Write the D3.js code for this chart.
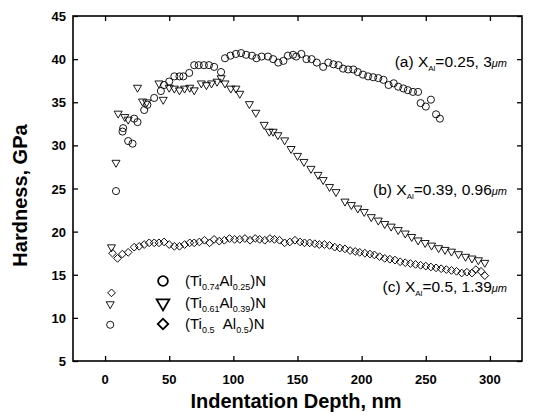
<!DOCTYPE html>
<html><head><meta charset="utf-8">
<script src="https://cdn.jsdelivr.net/npm/d3@7"></script>
<style>body{margin:0;background:#fff}svg{display:block;font-family:"Liberation Sans",Arial,sans-serif}</style>
</head><body><svg id="c" width="547" height="416"></svg>
<script>
// Depth (nm) and hardness (GPa)
const circleDepth = [4,8.5,13.6,14.1,18,21.4,22.7,25.3,30.5,33,38.3,43.5,46,50,54,58,61,65.6,69.5,73,77,81,85,90.4,93.5,97.7,102,106,110,114.5,118,122,127,131,135,139,142.5,146.5,149,153,157,161,165,170,174,178,182,185.5,189.5,193.5,197,201,205,209,213,217,221,225,228.5,232.5,236,240,244,246,250,254,258,261];
const circleH     = [9.2,24.7,31.6,32.0,30.5,30.2,33.1,32.7,34.1,34.7,35.5,36.3,37.0,37.4,38.0,38.0,38.0,38.4,39.3,39.3,39.3,39.3,39.1,38.5,40.1,40.4,40.6,40.7,40.5,40.4,40.1,40.3,40.3,40.0,39.6,39.8,40.4,40.5,40.3,40.6,40.0,40.0,39.6,39.1,39.6,39.4,39.3,38.9,38.8,38.8,38.5,38.2,38.0,37.9,37.8,37.6,37.0,37.2,36.8,36.6,36.4,36.2,36.2,34.9,34.5,35.3,33.6,33.1];
const triDepth = [4,5,8.5,10.2,15.4,18,25.3,29.2,32.5,42,45.3,50,54,58,62,66,69.5,75,79,83,87.3,90.5,93.5,98,102,105,112.5,117.5,124,128,131,134.7,140,145,150,155,160.5,166,170,175,180,187,192,197,202,207.5,213,218,223,228.5,234,239,244,249.5,254.5,260,265,270,275.5,281,286,291,296];
const triH     = [11.6,18.2,28.0,33.7,33.3,33.0,36.7,35.1,35.0,37.2,35.3,36.7,36.6,36.4,36.6,36.7,36.4,37.2,37.0,37.2,37.4,37.8,37.2,36.6,36.6,36.0,34.8,33.8,32.4,31.6,31.6,31.2,30.6,29.6,28.8,28.1,27.3,26.6,26.0,25.2,24.6,23.5,23.1,22.7,22.3,21.7,21.3,20.9,20.6,20.2,19.8,19.4,19.0,18.7,18.4,18.1,17.9,17.7,17.4,17.1,16.9,16.7,16.4];
const diaDepth = [5,5.8,9.7,13.5,18,22.7,26.6,30.5,34.4,38.3,42,46,50,54,58,62,66,69.5,73.5,77.5,81.5,85,89,93,97,101,105,109,113,117,120.5,124.5,128.5,132,136,140,144,148,152,155.5,159.5,163.5,167,171,175,179,183,187,191,195,198.5,202.5,206.5,210,214,218,222,226,230,234,238,242,246,250,254,258,262,266,270,274,278,282,286,289,293,296];
const diaH     = [12.9,17.5,16.9,17.4,17.6,18.2,18.3,18.5,18.7,18.7,18.7,18.8,18.5,18.3,18.3,18.5,18.7,18.7,18.8,19.0,18.7,19.1,18.9,19.0,19.2,19.1,19.1,19.2,19.0,19.2,19.1,19.0,19.2,19.1,19.0,18.7,18.8,19.0,18.8,18.7,18.7,18.6,18.5,18.5,18.4,18.2,18.1,18.0,17.8,17.7,17.6,17.5,17.4,17.3,17.1,16.9,16.8,16.7,16.5,16.4,16.3,16.2,16.1,16.0,15.9,15.8,15.7,15.6,15.5,15.4,15.2,15.3,15.2,15.6,15.4,14.9];
const xTicks = [0,50,100,150,200,250,300];
const yTicks = [5,10,15,20,25,30,35,40,45];

const svg = d3.select("#c");
const L=73, R=522, T=16, B=361;
const x = d3.scaleLinear().domain([-25,325]).range([L,R]);
const y = d3.scaleLinear().domain([5,45]).range([B,T]);

const minorX = d3.range(-25,326,25), minorY = d3.range(5,45.1,2.5);
function ax(axis, major, minor, tx) {
  const g = svg.append("g").attr("transform", tx);
  g.call(axis(minor).tickSize(-3).tickFormat(""));
  g.call(axis(major).tickSize(-5).tickFormat(""));
  g.selectAll(".domain").remove();
  g.selectAll("line").attr("stroke","#000").attr("stroke-width",1.3);
  return g;
}
ax(v=>d3.axisBottom(x).tickValues(v), xTicks, minorX, `translate(0,${B})`);
ax(v=>d3.axisTop(x).tickValues(v), xTicks, minorX, `translate(0,${T})`);
ax(v=>d3.axisLeft(y).tickValues(v), yTicks, minorY, `translate(${L},0)`);
ax(v=>d3.axisRight(y).tickValues(v), yTicks, minorY, `translate(${R},0)`);
svg.append("rect").attr("x",L).attr("y",T).attr("width",R-L).attr("height",B-T)
  .attr("fill","none").attr("stroke","#000").attr("stroke-width",1.6);

svg.append("g").selectAll("text").data(xTicks).join("text")
  .attr("x",d=>x(d)).attr("y",B+23).attr("text-anchor","middle")
  .attr("font-size",13).attr("font-weight","bold").text(d=>d);
svg.append("g").selectAll("text").data(yTicks).join("text")
  .attr("x",L-7).attr("y",d=>y(d)+5).attr("text-anchor","end")
  .attr("font-size",13).attr("font-weight","bold").text(d=>d);

svg.append("text").attr("x",296).attr("y",408).attr("text-anchor","middle")
  .attr("font-size",20).attr("font-weight","bold").text("Indentation Depth, nm");
svg.append("text").attr("transform",`translate(27,${(T+B)/2+7}) rotate(-90)`).attr("text-anchor","middle")
  .attr("font-size",20).attr("font-weight","bold").text("Hardness, GPa");

const sym = {
  circle: d3.symbol().type(d3.symbolCircle).size(40),
  tri: d3.symbol().type(d3.symbolTriangle).size(28),
  dia: d3.symbol().type(d3.symbolSquare).size(30)
};
function series(dx, dy, s, rot) {
  svg.append("g").selectAll("path").data(dx).join("path")
    .attr("d", s).attr("transform",(d,i)=>`translate(${x(d)},${y(dy[i])}) rotate(${rot})`)
    .attr("fill","none").attr("stroke","#000").attr("stroke-width",0.9);
}
series(diaDepth, diaH, sym.dia, 45);
series(triDepth, triH, sym.tri, 180);
series(circleDepth, circleH, sym.circle, 0);

// legend
const leg = [
  {s:d3.symbol().type(d3.symbolCircle).size(75), rot:0, y:281, a:"0.74", b:"0.25"},
  {s:d3.symbol().type(d3.symbolTriangle).size(70), rot:180, y:303, a:"0.61", b:"0.39"},
  {s:d3.symbol().type(d3.symbolSquare).size(55), rot:45, y:324, a:"0.5", b:"0.5"}
];
leg.forEach(l=>{
  svg.append("path").attr("d",l.s).attr("transform",`translate(163,${l.y}) rotate(${l.rot})`)
    .attr("fill","none").attr("stroke","#000").attr("stroke-width",1.8);
  const t = svg.append("text").attr("x",185).attr("y",l.y+5).attr("font-size",15);
  t.append("tspan").text("(Ti");
  t.append("tspan").attr("font-size",9).attr("dy",4).text(l.a);
  t.append("tspan").attr("dy",-4).text(l.a==="0.5"?"\u00a0\u00a0Al":"Al");
  t.append("tspan").attr("font-size",9).attr("dy",4).text(l.b);
  t.append("tspan").attr("dy",-4).text(")N");
});

// annotations
function ann(xr, yb, pre, val, th) {
  const t = svg.append("text").attr("x",xr).attr("y",yb).attr("text-anchor","end").attr("font-size",15.5);
  t.append("tspan").text(pre+" X");
  t.append("tspan").attr("font-size",8).attr("dy",4).text("Al");
  t.append("tspan").attr("dy",-4).text("="+val+", "+th);
  t.append("tspan").attr("font-size",11).attr("font-style","italic").text("\u03bcm");
}
ann(507, 67, "(a)", "0.25", "3");
ann(507, 195, "(b)", "0.39", "0.96");
ann(507, 292, "(c)", "0.5", "1.39");
</script></body></html>
